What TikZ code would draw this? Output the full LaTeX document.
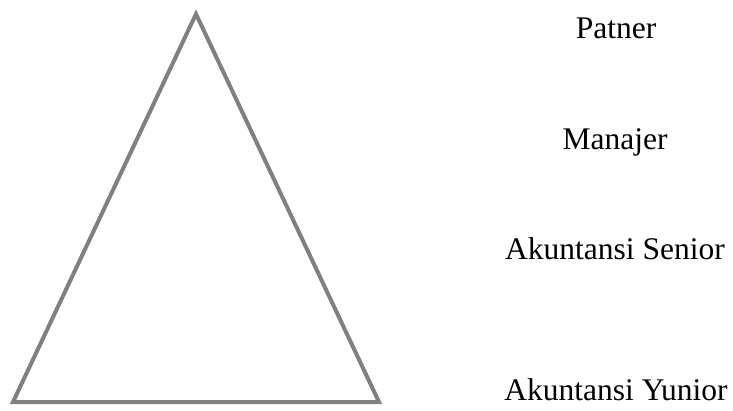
\documentclass[tikz,border=0pt]{standalone}
\usepackage{fontspec}
\setmainfont{Liberation Serif}
\begin{document}
\begin{tikzpicture}[x=1pt,y=-1pt,
  tri/.style={draw={rgb,255:red,128;green,128;blue,128},line width=4pt,line join=miter},
  lbl/.style={anchor=base,inner sep=0pt,font=\fontsize{31.5}{38}\selectfont}]
\useasboundingbox (0,0) rectangle (733,410);
\coordinate (A) at (196,14);
\coordinate (B) at (13,402);
\coordinate (C) at (379,402);
\draw[tri] (A) -- (B) -- (C) -- cycle;
\node[lbl] (p) at (616,38) {Patner};
\node[lbl] (m) at (615,149) {Manajer};
\node[lbl] (s) at (615,259) {Akuntansi Senior};
\node[lbl] (y) at (616,400) {Akuntansi Yunior};
\end{tikzpicture}
\end{document}
